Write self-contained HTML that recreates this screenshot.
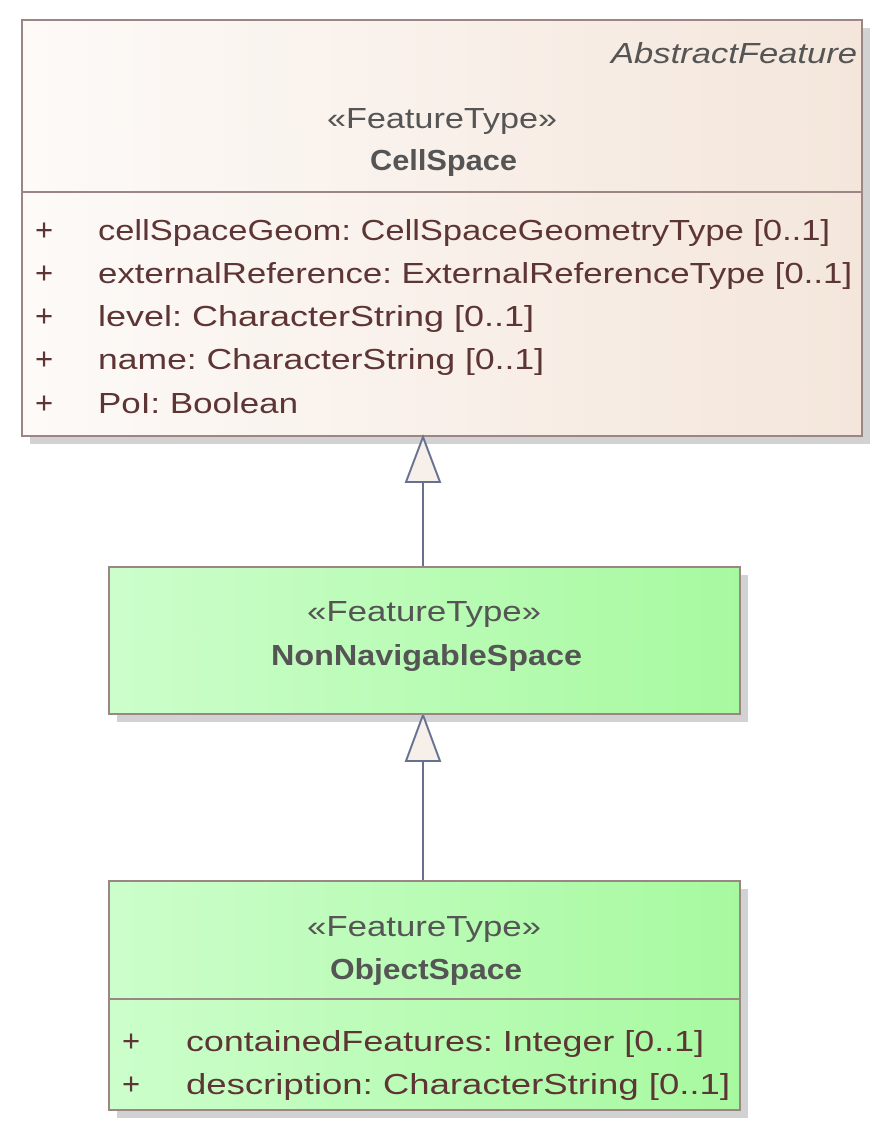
<!DOCTYPE html>
<html><head><meta charset="utf-8"><style>
html,body{margin:0;padding:0;background:#fff;width:891px;height:1134px;overflow:hidden}
text{font-family:"Liberation Sans",sans-serif}
</style></head><body>
<svg width="891" height="1134" viewBox="0 0 891 1134" xmlns="http://www.w3.org/2000/svg">
<defs>
<linearGradient id="cr" x1="0" y1="0" x2="1" y2="0"><stop offset="0" stop-color="#fdfaf8"/><stop offset="1" stop-color="#f4e6db"/></linearGradient>
<linearGradient id="gr" x1="0" y1="0" x2="1" y2="0"><stop offset="0" stop-color="#ccfecb"/><stop offset="1" stop-color="#a7f9a0"/></linearGradient>
</defs>
<rect x="30" y="28" width="840" height="416" fill="#d2d2d2"/>
<rect x="117" y="575" width="631" height="147" fill="#d2d2d2"/>
<rect x="117" y="889" width="631" height="229" fill="#d2d2d2"/>
<rect x="22" y="20" width="840" height="416" fill="url(#cr)" stroke="#9b8585" stroke-width="2"/>
<line x1="22" y1="192" x2="862" y2="192" stroke="#9b8585" stroke-width="2"/>
<text x="857" y="63" font-size="29" font-style="italic" fill="#555" text-anchor="end" textLength="246" lengthAdjust="spacingAndGlyphs">AbstractFeature</text>
<text x="327" y="128" font-size="29" fill="#555" textLength="230" lengthAdjust="spacingAndGlyphs">«FeatureType»</text>
<text x="370" y="170" font-size="29" font-weight="bold" fill="#555" textLength="147" lengthAdjust="spacingAndGlyphs">CellSpace</text>
<g font-size="29" fill="#5e3535">
<text x="35" y="240" font-size="31">+</text><text x="98" y="240" textLength="732" lengthAdjust="spacingAndGlyphs">cellSpaceGeom: CellSpaceGeometryType [0..1]</text>
<text x="35" y="283" font-size="31">+</text><text x="98" y="283" textLength="754" lengthAdjust="spacingAndGlyphs">externalReference: ExternalReferenceType [0..1]</text>
<text x="35" y="326" font-size="31">+</text><text x="98" y="326" textLength="436" lengthAdjust="spacingAndGlyphs">level: CharacterString [0..1]</text>
<text x="35" y="369" font-size="31">+</text><text x="98" y="369" textLength="446" lengthAdjust="spacingAndGlyphs">name: CharacterString [0..1]</text>
<text x="35" y="413" font-size="31">+</text><text x="98" y="413" textLength="200" lengthAdjust="spacingAndGlyphs">PoI: Boolean</text>
</g>
<line x1="423" y1="482" x2="423" y2="567" stroke="#66718f" stroke-width="2"/>
<polygon points="423,437 406,482 440,482" fill="#f7efea" stroke="#66718f" stroke-width="2"/>
<line x1="423" y1="761" x2="423" y2="881" stroke="#66718f" stroke-width="2"/>
<polygon points="423,715 406,761 440,761" fill="#f7efea" stroke="#66718f" stroke-width="2"/>
<rect x="109" y="567" width="631" height="147" fill="url(#gr)" stroke="#9b8585" stroke-width="2"/>
<text x="307" y="621" font-size="29" fill="#555" textLength="234" lengthAdjust="spacingAndGlyphs">«FeatureType»</text>
<text x="271" y="665" font-size="29" font-weight="bold" fill="#555" textLength="311" lengthAdjust="spacingAndGlyphs">NonNavigableSpace</text>
<rect x="109" y="881" width="631" height="229" fill="url(#gr)" stroke="#9b8585" stroke-width="2"/>
<line x1="109" y1="999" x2="740" y2="999" stroke="#9b8585" stroke-width="2"/>
<text x="307" y="936" font-size="29" fill="#555" textLength="234" lengthAdjust="spacingAndGlyphs">«FeatureType»</text>
<text x="330" y="979" font-size="29" font-weight="bold" fill="#555" textLength="192" lengthAdjust="spacingAndGlyphs">ObjectSpace</text>
<g font-size="29" fill="#5e3535">
<text x="122" y="1051" font-size="31">+</text><text x="186" y="1051" textLength="518" lengthAdjust="spacingAndGlyphs">containedFeatures: Integer [0..1]</text>
<text x="122" y="1094" font-size="31">+</text><text x="186" y="1094" textLength="544" lengthAdjust="spacingAndGlyphs">description: CharacterString [0..1]</text>
</g>
</svg>
</body></html>
